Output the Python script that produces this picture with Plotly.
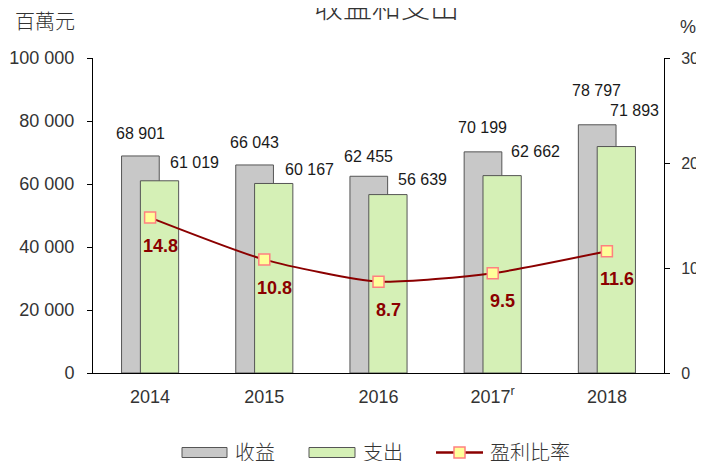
import plotly.graph_objects as go

# ---- data ----
years = ["2014", "2015", "2016", "2017", "2018"]
year_labels = ["2014", "2015", "2016", "2017<sup>r</sup>", "2018"]
revenue = [68901, 66043, 62455, 70199, 78797]
expense = [61019, 60167, 56639, 62662, 71893]
margin = [14.8, 10.8, 8.7, 9.5, 11.6]
left_ticks = [0, 20000, 40000, 60000, 80000, 100000]
right_ticks = [0, 10, 20, 30]

# ---- geometry (reference window pixels; page body adds an 8px offset) ----
OFF = 8
W, H = 704 - OFF, 461 - OFF
PL, PT, PR, PB = 93, 58, 664, 373          # plot area in window pixels
L, T = PL - OFF, PT - OFF
R, B = W - (PR - OFF), H - (PB - OFF)
PW, PH = PR - PL, PB - PT


def px(x):
    return (x - PL) / PW


def py(y):
    return (PB - y) / PH


def fmt(v):
    return f"{v:,}".replace(",", " ")


NUM_FONT = "Liberation Sans, Arial, Helvetica, sans-serif"
CJK_FONT = "Noto Sans CJK TC, Noto Sans CJK SC, sans-serif"
GRAY = "#c8c8c8"
GREEN = "#d5f0b6"
DARKRED = "#8b0000"

fig = go.Figure()
fig.add_trace(go.Bar(x=years, y=revenue, name="收益", offset=-0.25, width=0.33,
                     marker=dict(color=GRAY, line=dict(color="#555", width=1)),
                     showlegend=False))
fig.add_trace(go.Bar(x=years, y=expense, name="支出", offset=-0.085, width=0.335,
                     marker=dict(color=GREEN, line=dict(color="#555", width=1)),
                     showlegend=False))
fig.add_trace(go.Scatter(x=years, y=margin, name="盈利比率", yaxis="y2",
                         mode="lines+markers",
                         line=dict(color=DARKRED, width=2, shape="spline", smoothing=0.6),
                         marker=dict(symbol="square", size=11, color="#ffff99",
                                     line=dict(color="#ff8080", width=1.5)),
                         showlegend=False))

ann = []
rev_shift = [22, 22, 20, 24, 34]
exp_shift = [18, 14, 15, 24, 36]
exp_xshift = [44, 45, 44, 43, 28]
for i in range(len(years)):
    ann.append(dict(x=i, y=revenue[i], xref="x", yref="y", text=fmt(revenue[i]),
                    showarrow=False, xshift=-10, yshift=rev_shift[i], yanchor="middle",
                    font=dict(family=NUM_FONT, size=16, color="#1a1a1a")))
    ann.append(dict(x=i, y=expense[i], xref="x", yref="y", text=fmt(expense[i]),
                    showarrow=False, xshift=exp_xshift[i], yshift=exp_shift[i], yanchor="middle",
                    font=dict(family=NUM_FONT, size=16, color="#1a1a1a")))
    ann.append(dict(x=i, y=margin[i], xref="x", yref="y2", text=f"<b>{margin[i]}</b>",
                    showarrow=False, xshift=10, yshift=-28, yanchor="middle",
                    font=dict(family=NUM_FONT, size=18, color=DARKRED)))

# title & axis units
ann.append(dict(x=px(386), y=py(5), xref="paper", yref="paper", text="收益和支出",
                showarrow=False, xanchor="center", yanchor="middle",
                font=dict(family=CJK_FONT, size=29, color="#333", weight=300)))
ann.append(dict(x=px(13), y=py(21), xref="paper", yref="paper", text="百萬元",
                showarrow=False, xanchor="left", yanchor="middle",
                font=dict(family=CJK_FONT, size=20, color="#333", weight=300)))
ann.append(dict(x=px(688), y=py(27), xref="paper", yref="paper", text="%",
                showarrow=False, xanchor="center", yanchor="middle",
                font=dict(family=NUM_FONT, size=18, color="#333")))

# custom legend
shapes = []
lyc = 452.5
shapes.append(dict(type="rect", xref="paper", yref="paper", x0=px(182), x1=px(227),
                   y0=py(lyc + 5), y1=py(lyc - 5), fillcolor=GRAY, line=dict(color="#555", width=1)))
shapes.append(dict(type="rect", xref="paper", yref="paper", x0=px(309), x1=px(355),
                   y0=py(lyc + 5), y1=py(lyc - 5), fillcolor=GREEN, line=dict(color="#555", width=1)))
shapes.append(dict(type="line", xref="paper", yref="paper", x0=px(436), x1=px(483),
                   y0=py(lyc), y1=py(lyc), line=dict(color=DARKRED, width=2.5)))
shapes.append(dict(type="rect", xref="paper", yref="paper", x0=px(454), x1=px(465),
                   y0=py(lyc + 5.5), y1=py(lyc - 5.5), fillcolor="#ffff99",
                   line=dict(color="#ff8080", width=1.5)))
for txt, x0 in [("收益", 233), ("支出", 361), ("盈利比率", 488)]:
    ann.append(dict(x=px(x0), y=py(451), xref="paper", yref="paper", text=txt,
                    showarrow=False, xanchor="left", yanchor="middle",
                    font=dict(family=CJK_FONT, size=20, color="#333", weight=300)))

fig.update_layout(
    width=W, height=H,
    margin=dict(l=L, r=R, t=T, b=B, autoexpand=False),
    plot_bgcolor="white", paper_bgcolor="white",
    barmode="overlay",
    showlegend=False,
    font=dict(family=NUM_FONT, size=18, color="#333"),
    xaxis=dict(type="category", range=[-0.5, 4.5], tickmode="array", tickvals=years,
               ticktext=year_labels,
               showline=True, linecolor="black", linewidth=1, ticks="",
               showgrid=False, zeroline=False, ticklabelstandoff=7,
               tickfont=dict(family=NUM_FONT, size=18, color="#333")),
    yaxis=dict(range=[0, 100000], tickmode="array", tickvals=left_ticks,
               ticktext=[fmt(v) for v in left_ticks],
               showline=True, linecolor="black", linewidth=1, ticks="outside",
               ticklen=5, tickcolor="black", showgrid=False, zeroline=False,
               ticklabelstandoff=9,
               tickfont=dict(family=NUM_FONT, size=18, color="#333")),
    yaxis2=dict(range=[0, 30], tickmode="array", tickvals=right_ticks, overlaying="y",
                side="right", showline=True, linecolor="black", linewidth=1,
                ticks="outside", ticklen=5, tickcolor="black", showgrid=False,
                zeroline=False, ticklabelstandoff=8,
                tickfont=dict(family=NUM_FONT, size=16, color="#333")),
    annotations=ann,
    shapes=shapes,
)

fig.write_html("out.html")
